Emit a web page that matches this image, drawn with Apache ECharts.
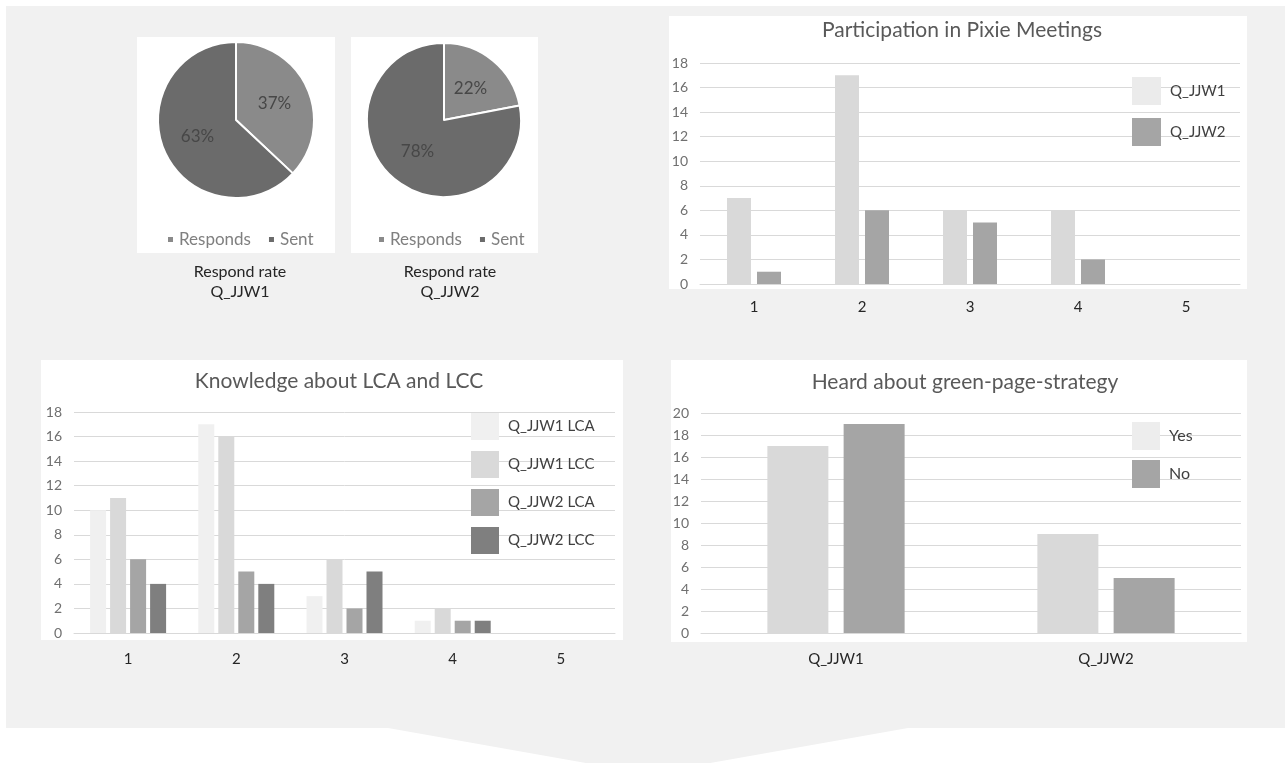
<!DOCTYPE html>
<html><head><meta charset="utf-8">
<script src="https://cdn.jsdelivr.net/npm/echarts@6/dist/echarts.min.js"></script>
<style>html,body{margin:0;padding:0;background:#fff}#c{width:1285px;height:763px}</style>
</head><body><div id="c"></div>
<script>
// ---- data ----
const pieNames = ['Responds', 'Sent'];
const pie1Values = [37, 63];
const pie2Values = [22, 78];
const pieCaptions = ['Respond rate\nQ_JJW1', 'Respond rate\nQ_JJW2'];

const pixieTitle = 'Participation in Pixie Meetings';
const pixieCategories = ['1', '2', '3', '4', '5'];
const pixieSeriesNames = ['Q_JJW1', 'Q_JJW2'];
const pixieJJW1 = [7, 17, 6, 6, 0];
const pixieJJW2 = [1, 6, 5, 2, 0];

const knowTitle = 'Knowledge about LCA and LCC';
const knowCategories = ['1', '2', '3', '4', '5'];
const knowSeriesNames = ['Q_JJW1 LCA', 'Q_JJW1 LCC', 'Q_JJW2 LCA', 'Q_JJW2 LCC'];
const knowJJW1LCA = [10, 17, 3, 1, 0];
const knowJJW1LCC = [11, 16, 6, 2, 0];
const knowJJW2LCA = [6, 5, 2, 1, 0];
const knowJJW2LCC = [4, 4, 5, 1, 0];

const greenTitle = 'Heard about green-page-strategy';
const greenCategories = ['Q_JJW1', 'Q_JJW2'];
const greenSeriesNames = ['Yes', 'No'];
const greenYes = [17, 9];
const greenNo = [19, 5];

// ---- styles ----
const FONT = 'Lato';
const C_LIGHT = '#f0f0f0', C_L2 = '#d9d9d9', C_MID = '#a5a5a5', C_DARK = '#7f7f7f';
const PIE_COLORS = ['#8a8a8a', '#6b6b6b'];

const chart = echarts.init(document.getElementById('c'));

function valueAxis(grid, max) {
  return {
    type: 'value', gridIndex: grid, min: 0, max: max, interval: 2,
    axisLine: {show: false}, axisTick: {show: false},
    axisLabel: {color: '#707070', fontFamily: FONT, fontSize: 14, margin: 12},
    splitLine: {lineStyle: {color: '#d9d9d9', width: 1}}
  };
}
function catAxis(grid, data, margin) {
  return {
    type: 'category', gridIndex: grid, data: data,
    axisLine: {lineStyle: {color: '#d9d9d9'}}, axisTick: {show: false},
    axisLabel: {color: '#262626', fontFamily: FONT, fontSize: 15, margin: margin}
  };
}
function bar(name, data, idx, color, width) {
  return {
    type: 'bar', name: name, data: data, xAxisIndex: idx, yAxisIndex: idx,
    barWidth: width, barGap: '25%', itemStyle: {color: color}, silent: true
  };
}
function pie(values, center, radius) {
  return {
    type: 'pie', center: center, radius: radius, startAngle: 90, clockwise: true,
    silent: true,
    data: pieNames.map((n, i) => ({name: n, value: values[i], itemStyle: {color: PIE_COLORS[i]}})),
    itemStyle: {borderColor: '#fff', borderWidth: 2},
    label: {show: true, position: 'inside', formatter: p => p.value + '%', color: '#474747', fontFamily: FONT, fontSize: 17},
    labelLine: {show: false}
  };
}
function legendText(size) {
  return {color: '#404040', fontFamily: FONT, fontSize: size, padding: [0, 0, 0, 4]};
}
const titleStyle = {color: '#595959', fontFamily: FONT, fontSize: 21, fontWeight: 'normal'};
const captionStyle = {color: '#262626', fontFamily: FONT, fontSize: 16, fontWeight: 'normal', lineHeight: 20};

const option = {
  animation: false,
  backgroundColor: '#ffffff',
  graphic: [
    {type: 'polygon', z: -10, shape: {points: [[6, 6], [1285, 6], [1285, 728], [908, 728], [648, 774], [388, 728], [6, 728]]}, style: {fill: '#f1f1f1'}},
    {type: 'rect', z: -9, shape: {x: 137, y: 37, width: 198, height: 216}, style: {fill: '#fff'}},
    {type: 'rect', z: -9, shape: {x: 351, y: 37, width: 187, height: 216}, style: {fill: '#fff'}},
    {type: 'rect', z: -9, shape: {x: 669, y: 16, width: 578, height: 273}, style: {fill: '#fff'}},
    {type: 'rect', z: -9, shape: {x: 41, y: 360, width: 582, height: 280}, style: {fill: '#fff'}},
    {type: 'rect', z: -9, shape: {x: 671, y: 360, width: 576, height: 282}, style: {fill: '#fff'}}
  ],
  title: [
    {text: pixieTitle, left: 957, top: 15, textAlign: 'center', textStyle: titleStyle},
    {text: knowTitle, left: 334, top: 366, textAlign: 'center', textStyle: titleStyle},
    {text: greenTitle, left: 960, top: 367, textAlign: 'center', textStyle: titleStyle},
    {text: pieCaptions[0], left: 235, top: 257, textAlign: 'center', textStyle: captionStyle},
    {text: pieCaptions[1], left: 445, top: 257, textAlign: 'center', textStyle: captionStyle}
  ],
  legend: [
    {left: 161, top: 226, icon: 'rect', itemWidth: 7, itemHeight: 7, itemGap: 16, data: pieNames,
     textStyle: {color: '#7f7f7f', fontFamily: FONT, fontSize: 17}, selectedMode: false},
    {left: 372, top: 226, icon: 'rect', itemWidth: 7, itemHeight: 7, itemGap: 16, data: pieNames,
     textStyle: {color: '#7f7f7f', fontFamily: FONT, fontSize: 17}, selectedMode: false},
    {orient: 'vertical', left: 1127, top: 72, icon: 'rect', itemWidth: 29, itemHeight: 28, itemGap: 13,
     data: [{name: pixieSeriesNames[0], itemStyle: {color: '#ebebeb'}}, {name: pixieSeriesNames[1]}],
     textStyle: legendText(15), selectedMode: false},
    {orient: 'vertical', left: 466, top: 408, icon: 'rect', itemWidth: 28, itemHeight: 27, itemGap: 11,
     data: knowSeriesNames, textStyle: legendText(15), selectedMode: false},
    {orient: 'vertical', left: 1127, top: 417, icon: 'rect', itemWidth: 28, itemHeight: 28, itemGap: 10,
     data: [{name: greenSeriesNames[0], itemStyle: {color: '#ededed'}}, {name: greenSeriesNames[1]}],
     textStyle: legendText(16), selectedMode: false}
  ],
  grid: [
    {left: 700, top: 63, width: 540, height: 221},
    {left: 74, top: 412, width: 541, height: 221},
    {left: 701, top: 413, width: 540, height: 220}
  ],
  xAxis: [
    catAxis(0, pixieCategories, 16),
    catAxis(1, knowCategories, 19),
    catAxis(2, greenCategories, 19)
  ],
  yAxis: [
    valueAxis(0, 18),
    valueAxis(1, 18),
    valueAxis(2, 20)
  ],
  series: [
    pie(pie1Values, [236, 120], 78),
    pie(pie2Values, [444, 120], 77),
    bar(pixieSeriesNames[0], pixieJJW1, 0, C_L2, 24),
    bar(pixieSeriesNames[1], pixieJJW2, 0, C_MID, 24),
    bar(knowSeriesNames[0], knowJJW1LCA, 1, C_LIGHT, 16),
    bar(knowSeriesNames[1], knowJJW1LCC, 1, C_L2, 16),
    bar(knowSeriesNames[2], knowJJW2LCA, 1, C_MID, 16),
    bar(knowSeriesNames[3], knowJJW2LCC, 1, C_DARK, 16),
    bar(greenSeriesNames[0], greenYes, 2, C_L2, 61),
    bar(greenSeriesNames[1], greenNo, 2, C_MID, 61)
  ]
};
chart.setOption(option);
</script></body></html>
